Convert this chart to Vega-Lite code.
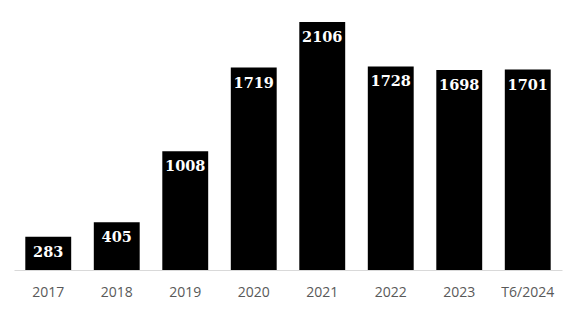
{
  "$schema": "https://vega.github.io/schema/vega-lite/v6.json",
  "width": 548,
  "height": 270,
  "autosize": {"type": "none"},
  "padding": {"left": 14, "top": 0, "right": 14, "bottom": 42},
  "background": "white",
  "config": {"view": {"stroke": null}},
  "data": {"values": [
    {"year": "2017", "value": 283},
    {"year": "2018", "value": 405},
    {"year": "2019", "value": 1008},
    {"year": "2020", "value": 1719},
    {"year": "2021", "value": 2106},
    {"year": "2022", "value": 1728},
    {"year": "2023", "value": 1698},
    {"year": "T6/2024", "value": 1701}
  ]},
  "encoding": {
    "x": {"field": "year", "type": "nominal", "sort": null,
      "scale": {"paddingInner": 0.33, "paddingOuter": 0.165},
      "axis": {"title": null, "labelAngle": 0, "ticks": false, "domainColor": "#d9d9d9", "domainWidth": 1,
        "labelColor": "#595959", "labelFont": "Open Sans", "labelFontSize": 14, "labelPadding": 15}},
    "y": {"field": "value", "type": "quantitative",
      "scale": {"domain": [0, 2292], "nice": false, "zero": true},
      "axis": null}
  },
  "layer": [
    {"mark": {"type": "bar", "color": "#000000"}},
    {"mark": {"type": "text", "baseline": "top", "dy": 9, "color": "white", "font": "DejaVu Serif", "fontWeight": "bold", "fontSize": 14.5},
     "encoding": {"text": {"field": "value", "type": "quantitative"}}}
  ]
}
